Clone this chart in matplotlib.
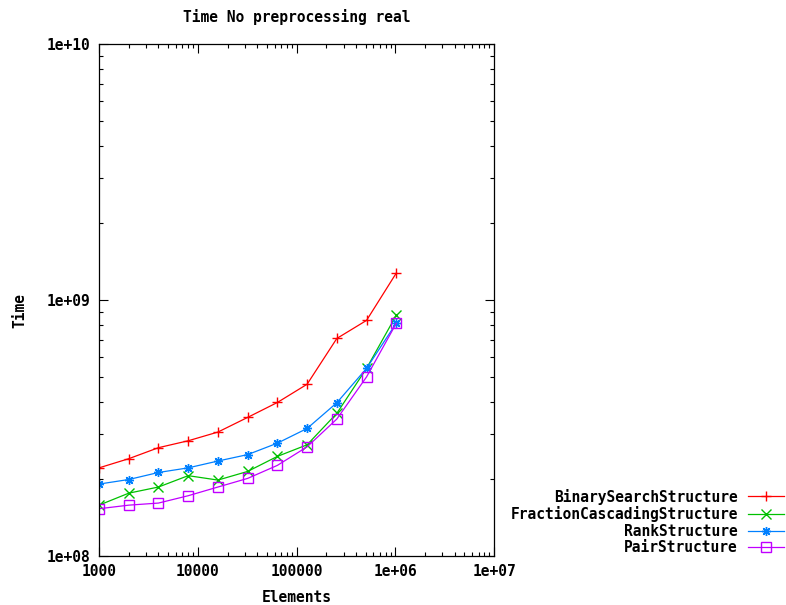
import numpy as np
import matplotlib.pyplot as plt
from matplotlib.ticker import LogLocator, NullFormatter, FixedFormatter, FixedLocator

# Problem sizes (doubling from 1000)
elements = [1000, 2000, 4000, 8000, 16000, 32000, 64000, 128000, 256000, 512000, 1024000]

binary_search = [2.21e8, 2.40e8, 2.65e8, 2.82e8, 3.05e8, 3.48e8, 3.98e8, 4.69e8, 7.08e8, 8.33e8, 1.275e9]
fraction_cascading = [1.58e8, 1.76e8, 1.86e8, 2.06e8, 1.98e8, 2.14e8, 2.45e8, 2.72e8, 3.61e8, 5.41e8, 8.73e8]
rank = [1.91e8, 1.99e8, 2.12e8, 2.21e8, 2.35e8, 2.49e8, 2.76e8, 3.15e8, 3.97e8, 5.41e8, 8.13e8]
pair = [1.53e8, 1.58e8, 1.61e8, 1.72e8, 1.86e8, 2.01e8, 2.26e8, 2.67e8, 3.43e8, 5.01e8, 8.11e8]

x_ticks = [1e3, 1e4, 1e5, 1e6, 1e7]
x_labels = ['1000', '10000', '100000', '1e+06', '1e+07']
y_ticks = [1e8, 1e9, 1e10]
y_labels = ['1e+08', '1e+09', '1e+10']

plt.rcParams['font.family'] = 'DejaVu Sans Mono'
plt.rcParams['font.weight'] = 'bold'
plt.rcParams['font.size'] = 10.5

fig = plt.figure(figsize=(7.86, 6.05), dpi=100)
ax = fig.add_axes([0.126, 0.081, 0.5025, 0.846])

series = [
    ('BinarySearchStructure', binary_search, '#ff0000', '+', 'full'),
    ('FractionCascadingStructure', fraction_cascading, '#00c000', 'x', 'full'),
    ('RankStructure', rank, '#0080ff', (8, 2, 0), 'full'),
    ('PairStructure', pair, '#c000ff', 's', 'none'),
]
for name, vals, color, marker, fill in series:
    ax.plot(elements, vals, color=color, lw=0.9, marker=marker, ms=6.5,
            mew=1.0, fillstyle=fill, label=name)

ax.set_xscale('log')
ax.set_yscale('log')
ax.set_xlim(1e3, 1e7)
ax.set_ylim(1e8, 1e10)

ax.xaxis.set_major_locator(FixedLocator(x_ticks))
ax.xaxis.set_major_formatter(FixedFormatter(x_labels))
ax.yaxis.set_major_locator(FixedLocator(y_ticks))
ax.yaxis.set_major_formatter(FixedFormatter(y_labels))
ax.xaxis.set_minor_locator(LogLocator(base=10, subs=np.arange(2, 10), numticks=20))
ax.yaxis.set_minor_locator(LogLocator(base=10, subs=np.arange(2, 10), numticks=20))
ax.xaxis.set_minor_formatter(NullFormatter())
ax.yaxis.set_minor_formatter(NullFormatter())

ax.tick_params(which='both', direction='in', top=True, right=True, width=0.8)
ax.tick_params(which='major', length=6.5, pad=6)
ax.tick_params(which='minor', length=3.2)
for sp in ax.spines.values():
    sp.set_linewidth(0.9)

ax.set_title('Time No preprocessing real', fontsize=10.5, fontweight='bold', pad=16)
ax.set_xlabel('Elements', fontweight='bold', labelpad=8)
fig.text(0.025, 1 - 310 / 605, 'Time', rotation=90, ha='center', va='center',
         fontweight='bold')

fig.legend(loc='lower right', bbox_to_anchor=(0.998, 0.082), frameon=False,
           markerfirst=False, handlelength=2.5, handletextpad=0.7,
           labelspacing=0.11, borderpad=0.0, borderaxespad=0.0)

fig.savefig('out.png', dpi=100)
